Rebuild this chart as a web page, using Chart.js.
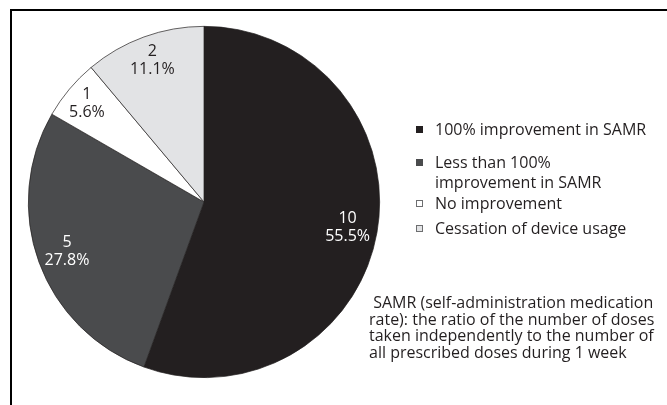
<!DOCTYPE html>
<html>
<head>
<meta charset="utf-8">
<script src="https://cdn.jsdelivr.net/npm/chart.js@4.4.0/dist/chart.umd.min.js"></script>
<style>
  html, body { margin: 0; padding: 0; background: #fff; }
  #wrap { position: relative; width: 667px; height: 405px; overflow: hidden; font-family: "Open Sans", sans-serif; color: #231f20; }
  #frame { position: absolute; left: 10px; top: 9px; width: 700px; height: 450px; border-left: 2px solid #000; border-top: 2px solid #000; }
  #chart { position: absolute; left: 0; top: 0; }
  #legend { position: absolute; left: 414px; top: 119px; font-size: 16px; line-height: 20px; }
  .item { position: relative; padding-left: 21px; }
  .item .box { position: absolute; left: 2px; top: 7px; width: 7px; height: 7px; box-sizing: border-box; }
  #note { position: absolute; left: 369px; top: 294px; font-size: 16px; line-height: 16.7px; white-space: pre; }
</style>
</head>
<body>
<div id="wrap">
  <div id="frame"></div>
  <canvas id="chart" width="667" height="405"></canvas>
  <div id="legend"></div>
  <div id="note"></div>
</div>
<script>
// data
const categories = [
  ['100% improvement in SAMR'],
  ['Less than 100%', 'improvement in SAMR'],
  ['No improvement'],
  ['Cessation of device usage']
];
const counts = [10, 5, 1, 2];
const percentLabels = ['55.5%', '27.8%', '5.6%', '11.1%'];
const sliceColors = ['#231f20', '#4a4b4d', '#ffffff', '#e2e3e5'];
const labelColors = ['#ffffff', '#ffffff', '#231f20', '#231f20'];
const noteLines = [
  ' SAMR (self-administration medication',
  'rate): the ratio of the number of doses',
  'taken independently to the number of',
  'all prescribed doses during 1 week'
];

// 슬라이스 안 라벨
const labelRadius = [0.83, 0.83, 0.87, 0.86];
const sliceLabels = {
  id: 'sliceLabels',
  afterDatasetsDraw(chart) {
    const ctx = chart.ctx;
    const meta = chart.getDatasetMeta(0);
    ctx.save();
    ctx.font = '16px "Open Sans", sans-serif';
    ctx.textAlign = 'center';
    ctx.textBaseline = 'middle';
    meta.data.forEach((arc, i) => {
      const mid = (arc.startAngle + arc.endAngle) / 2;
      const r = arc.outerRadius * labelRadius[i];
      const x = arc.x + Math.cos(mid) * r;
      const y = arc.y + Math.sin(mid) * r;
      ctx.fillStyle = labelColors[i];
      ctx.fillText(String(counts[i]), x, y - 9);
      ctx.fillText(percentLabels[i], x, y + 9);
    });
    ctx.restore();
  }
};

new Chart(document.getElementById('chart'), {
  type: 'pie',
  data: {
    labels: categories.map(c => c.join(' ')),
    datasets: [{
      data: counts,
      backgroundColor: sliceColors,
      borderColor: '#231f20',
      borderWidth: 0.7
    }]
  },
  options: {
    responsive: false,
    animation: false,
    layout: { padding: { left: 28, right: 287, top: 26, bottom: 27 } },
    plugins: {
      legend: { display: false },
      tooltip: { enabled: false }
    }
  },
  plugins: [sliceLabels]
});

// 범례
const legend = document.getElementById('legend');
const gaps = [13, 1, 5, 0];
categories.forEach((lines, i) => {
  const div = document.createElement('div');
  div.className = 'item';
  div.style.marginBottom = gaps[i] + 'px';
  const box = document.createElement('span');
  box.className = 'box';
  box.style.background = sliceColors[i];
  box.style.border = i < 2 ? 'none' : '1px solid #6d6e70';
  div.appendChild(box);
  div.appendChild(document.createTextNode(lines.join('\n')));
  div.style.whiteSpace = 'pre';
  legend.appendChild(div);
});

document.getElementById('note').textContent = noteLines.join('\n');
</script>
</body>
</html>
